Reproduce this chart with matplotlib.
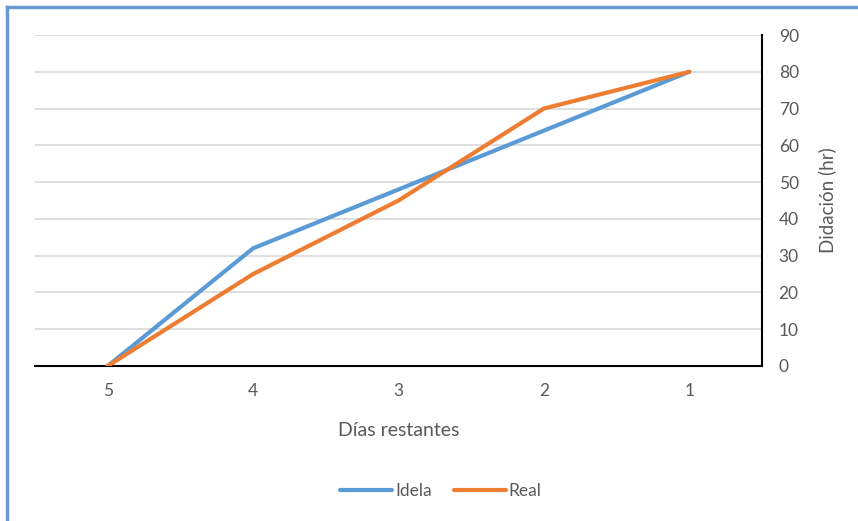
import matplotlib.pyplot as plt
from matplotlib.lines import Line2D

plt.rcParams['font.family'] = ['Lato', 'DejaVu Sans']

dias = ['5', '4', '3', '2', '1']
idela = [0, 32, 48, 64, 80]
real = [0, 25, 45, 70, 80]

gris = '#595959'

fig = plt.figure(figsize=(8.58, 5.21), dpi=100)
ax = fig.add_axes([35 / 858, 1 - 366 / 521, 727 / 858, 331 / 521])

x = range(len(dias))
ax.plot(x, idela, color='#5b9bd5', lw=3, label='Idela', solid_capstyle='round')
ax.plot(x, real, color='#ed7d31', lw=3, label='Real', solid_capstyle='round')

ax.set_xlim(-0.5, len(dias) - 0.5)
ax.set_ylim(0, 90)
ax.set_xticks(list(x))
ax.set_xticklabels(dias)
ax.set_yticks(range(0, 91, 10))

ax.yaxis.tick_right()
ax.yaxis.set_label_position('right')
ax.tick_params(axis='both', length=0, colors=gris, labelsize=12.5)
ax.tick_params(axis='x', pad=12)
ax.tick_params(axis='y', pad=12)

ax.grid(axis='y', color='#d9d9d9', lw=1.2)
ax.set_axisbelow(True)
for s in ['top', 'left']:
    ax.spines[s].set_visible(False)
ax.spines['bottom'].set_color('black')
ax.spines['bottom'].set_linewidth(1.5)
ax.spines['bottom'].set_zorder(1)
ax.spines['right'].set_color('black')
ax.spines['right'].set_linewidth(1.5)

ax.set_xlabel('Días restantes', color=gris, fontsize=14, labelpad=17)
ax.set_ylabel('Didación (hr)', color=gris, fontsize=13.5, labelpad=14)

fig.legend(loc='center', bbox_to_anchor=(441 / 858, 1 - 491 / 521), ncol=2,
           frameon=False, fontsize=12.5, labelcolor=gris, handlelength=3.0,
           columnspacing=1.3, handletextpad=0.15)

# marco azul (arriba e izquierda)
borde = '#6b9ad3'
fig.add_artist(Line2D([7 / 858, 7 / 858], [0, 1 - 7 / 521], color=borde, lw=2.5,
                      transform=fig.transFigure))
fig.add_artist(Line2D([7 / 858, 1], [1 - 7 / 521, 1 - 7 / 521], color=borde, lw=2.5,
                      transform=fig.transFigure))

fig.savefig('out.png', dpi=100)
